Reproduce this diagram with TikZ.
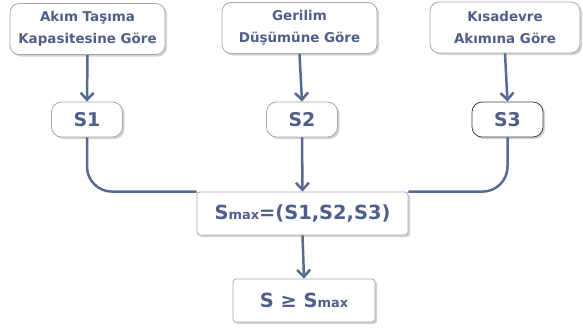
\documentclass[tikz,border=0pt]{standalone}
\usepackage{fontspec}
\setmainfont{DejaVu Sans}
\usetikzlibrary{arrows.meta,shadows}
\definecolor{txtblue}{HTML}{4F5E8A}
\definecolor{lineblue}{HTML}{566A93}
\definecolor{boxgray}{HTML}{A8A8A8}

\begin{document}
\begin{tikzpicture}[x=1bp,y=1bp,
    every node/.style={draw=boxgray,line width=0.8bp,fill=white,text=txtblue,
        font=\bfseries,align=center,inner sep=0pt,
        drop shadow={shadow xshift=2bp,shadow yshift=-2bp,opacity=0.35}},
    topbox/.style={minimum width=155bp,minimum height=51bp,rounded corners=9bp,
        font=\bfseries\fontsize{13.5}{22}\selectfont},
    sbox/.style={minimum width=71bp,minimum height=35bp,rounded corners=10bp,
        font=\bfseries\fontsize{19}{20}\selectfont},
    maxbox/.style={minimum height=43bp,rounded corners=3bp,
        font=\bfseries\fontsize{19.5}{20}\selectfont},
    link/.style={draw=lineblue,line width=2.5bp},
    arr/.style={link,-{Straight Barb[length=7bp,width=13bp]}}]
    \useasboundingbox (0,0) rectangle (583,327);
    \node[topbox] (T1) at (87.5,298) {Akım Taşıma\\Kapasitesine Göre};
    \node[topbox] (T2) at (299.5,299) {Gerilim\\Düşümüne Göre};
    \node[topbox,minimum width=150bp] (T3) at (505,299.5) {Kısadevre\\Akımına Göre};

    \node[sbox] (S1) at (87,207.5) {S1};
    \node[sbox] (S2) at (302,207.5) {S2};
    \node[sbox,draw=black!75] (S3) at (507.5,207.5) {S3};

    \node[maxbox,minimum width=211bp] (M) at (302.5,113.5)
        {S{\fontsize{13}{13}\selectfont max}=(S1,S2,S3)};
    \node[maxbox,minimum width=142bp] (R) at (304,26.5)
        {S ≥ S{\fontsize{13}{13}\selectfont max}};

    \foreach \i in {1,2,3}{
        \draw[arr] (T\i.south) -- (S\i.north);
    }
    \draw[link,rounded corners=25bp] (S1.south) |- (M.north west);
    \draw[link,rounded corners=25bp] (S3.south) |- (M.north east);
    \draw[arr] (S2.south) -- (M.north);
    \draw[arr] (M.south) -- (R.north);
\end{tikzpicture}
\end{document}
